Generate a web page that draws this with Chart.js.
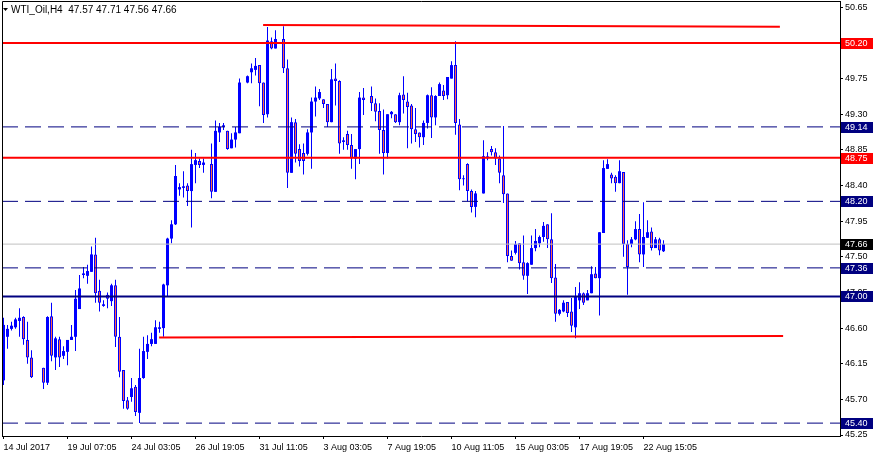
<!DOCTYPE html>
<html>
<head>
<meta charset="utf-8">
<script src="https://cdn.jsdelivr.net/npm/chart.js@4.4.1/dist/chart.umd.min.js"></script>
<style>
  html, body { margin: 0; padding: 0; background: #fff; }
  #wrap { width: 879px; height: 459px; }
</style>
</head>
<body>
<div id="wrap"><canvas id="oilChart"></canvas></div>
<script>
// WTI_Oil H4 candles, one slot per bar (null = empty slot)
const opens = [
  45.94, 46.49, 46.59, 46.61, 46.69, 46.74, 46.45, 46.23, null, null,
  46.10, 45.91, 46.75, 46.23, 46.46, 46.25, 46.30, 46.45, 46.49, 46.84,
  47.27, 47.26, 47.31, 47.53, 47.07, 46.88, 47.02, 46.94, 47.14, 46.49,
  46.07, 45.69, 45.73, 45.86, 45.53, 45.97, 46.30, 46.40, 46.40, 46.59,
  46.60, 47.14, 47.73, 47.91, 48.35, 48.37, 48.40, 48.33, 48.66, 48.71,
  48.66, null, 48.67, 48.32, 49.07, 49.14, 49.09, 48.87, 48.98, 49.06,
  null, 49.70, 49.83, 49.86, 49.92, 49.70, 49.30, 50.22, 50.13, null,
  50.25, 49.88, 48.56, 49.20, 48.86, 48.81, 48.80, 49.07, 49.46, 49.50,
  49.49, 49.43, 49.20, 49.75, 49.72, 48.95, 49.05, 48.91, 48.74, 48.86,
  49.51, null, 49.53, 49.44, 49.34, 49.10, 48.81, 49.30, 49.30, 49.20,
  49.55, 49.46, 49.41, 49.11, 49.07, 49.01, 49.19, 49.54, 49.26, 49.53,
  49.60, 49.54, 49.75, 49.92, 49.17, 48.48, 48.67, 48.33, 48.13, null,
  48.30, 48.77, 48.86, 48.82, 48.74, 48.53, 48.30, 47.51, 47.55, 47.67,
  47.43, 47.26, 47.40, 47.61, 47.67, 47.75, 47.91, 47.72, 47.24, 46.78,
  46.81, 46.93, 46.81, 46.61, 46.95, 47.04, 46.95, 47.04, 47.29, 47.23,
  47.80, 48.61, 48.54, 48.51, 48.43, 48.57, 47.66, 47.66, 47.72, 47.85,
  47.53, 47.74, 47.82, 47.61, 47.72, 47.57
];
const highs = [
  46.73, 46.64, 46.68, 46.73, 46.85, 46.75, 46.68, 46.32, null, null,
  46.10, 46.75, 46.92, 46.49, 46.49, 46.37, 46.45, 46.64, 47.08, 47.27,
  47.37, 47.40, 47.63, 47.74, 47.21, 46.95, 47.05, 47.16, 47.21, 46.74,
  46.07, 45.73, 45.97, 45.88, 46.34, 46.49, 46.51, 46.54, 46.70, 46.68,
  47.16, 47.74, 47.96, 48.66, 48.43, 48.58, 48.43, 48.85, 48.81, 48.74,
  48.74, null, 48.93, 49.22, 49.19, 49.19, 49.09, 49.06, 49.14, 49.75,
  null, 49.79, 49.94, 50.01, 49.92, 49.70, 50.40, 50.27, 50.36, null,
  50.41, 49.99, 49.26, 49.24, 48.92, 48.93, 49.11, 49.51, 49.65, 49.62,
  49.49, 49.43, 49.87, 49.94, 49.73, 49.01, 49.09, 49.05, 48.86, 49.58,
  49.63, null, 49.65, 49.50, 49.44, 49.36, 49.30, 49.34, 49.30, 49.57,
  49.78, 49.57, 49.43, 49.38, 49.07, 49.22, 49.55, 49.64, 49.54, 49.70,
  49.67, 49.77, 49.97, 50.22, 49.24, 48.53, 48.68, 48.35, 48.33, null,
  48.97, 48.82, 48.90, 48.87, 48.78, 49.15, 48.30, 47.58, 47.70, 47.67,
  47.77, 47.43, 47.77, 47.85, 47.77, 47.94, 47.91, 48.05, 47.41, 46.84,
  46.95, 46.93, 46.98, 47.12, 47.18, 47.05, 47.08, 47.38, 47.37, 47.81,
  48.72, 48.73, 48.56, 48.53, 48.72, 48.57, 47.71, 47.75, 47.95, 48.04,
  48.19, 47.96, 47.87, 47.75, 47.74, 47.71
];
const lows = [
  45.88, 46.34, 46.57, 46.59, 46.49, 46.39, 46.15, 45.97, null, null,
  45.83, 45.88, 46.18, 46.07, 46.11, 46.21, 46.13, 46.45, 46.31, 46.84,
  47.23, 47.16, 47.31, 46.92, 46.81, 46.87, 46.85, 46.88, 46.36, 45.98,
  45.58, 45.57, 45.67, 45.49, 45.40, 45.96, 46.21, 46.37, 46.40, 46.54,
  46.49, 47.00, 47.67, 47.90, 48.27, 48.25, 48.14, 47.87, 48.43, 48.62,
  48.56, null, 48.24, 48.32, 48.95, 49.10, 48.85, 48.87, 48.88, 49.06,
  null, 49.69, 49.69, 49.79, 49.40, 49.19, 49.26, 50.12, 50.13, null,
  49.82, 48.37, 48.56, 48.69, 48.64, 48.54, 48.78, 48.61, 49.27, 49.48,
  49.38, 49.14, 49.20, 49.41, 48.80, 48.85, 48.85, 48.61, 48.48, 48.67,
  49.29, null, 49.34, 49.21, 48.80, 48.54, 48.74, 49.25, 49.19, 49.16,
  49.31, 48.87, 48.93, 48.95, 48.88, 48.91, 49.12, 49.00, 49.16, 49.53,
  49.48, 49.49, 49.75, 49.04, 48.34, 48.40, 48.20, 48.06, 48.00, null,
  48.30, 48.72, 48.78, 48.66, 48.43, 48.18, 47.43, 47.45, 47.53, 47.34,
  47.21, 47.03, 47.40, 47.57, 47.62, 47.69, 47.61, 47.17, 46.68, 46.76,
  46.80, 46.74, 46.55, 46.47, 46.84, 46.89, 46.95, 47.04, 47.23, 46.76,
  47.80, 48.61, 48.43, 48.32, 48.43, 47.50, 47.02, 47.62, 47.71, 47.43,
  47.37, 47.74, 47.58, 47.61, 47.52, 47.56
];
const closes = [
  46.64, 46.59, 46.63, 46.71, 46.73, 46.46, 46.23, 45.98, null, null,
  45.91, 46.74, 46.25, 46.47, 46.23, 46.31, 46.45, 46.49, 46.97, 47.10,
  47.29, 47.32, 47.53, 47.04, 46.92, 46.90, 46.97, 47.14, 46.49, 46.05,
  45.68, 45.58, 45.84, 45.54, 45.97, 46.31, 46.40, 46.46, 46.61, 46.61,
  47.15, 47.73, 47.91, 48.52, 48.38, 48.39, 48.33, 48.67, 48.72, 48.66,
  48.69, null, 48.32, 49.09, 49.14, 49.16, 48.86, 48.98, 49.07, 49.70,
  null, 49.78, 49.88, 49.91, 49.69, 49.29, 50.23, 50.13, 50.25, null,
  49.88, 48.56, 49.20, 48.80, 48.71, 48.71, 49.07, 49.46, 49.51, 49.58,
  49.43, 49.20, 49.74, 49.72, 48.93, 48.97, 48.91, 48.74, 48.86, 49.51,
  49.48, null, 49.44, 49.33, 49.10, 48.81, 49.30, 49.33, 49.20, 49.54,
  49.48, 49.39, 49.11, 49.05, 49.01, 49.19, 49.54, 49.26, 49.53, 49.68,
  49.53, 49.77, 49.92, 49.19, 48.48, 48.49, 48.33, 48.13, 48.30, null,
  48.77, 48.74, 48.82, 48.74, 48.56, 48.29, 47.51, 47.45, 47.66, 47.42,
  47.26, 47.42, 47.61, 47.70, 47.75, 47.89, 47.72, 47.23, 46.78, 46.83,
  46.92, 46.79, 46.63, 47.00, 47.04, 46.92, 47.04, 47.28, 47.23, 47.81,
  48.62, 48.67, 48.49, 48.43, 48.58, 47.66, 47.37, 47.72, 47.85, 47.53,
  47.75, 47.81, 47.61, 47.72, 47.58, 47.66
];

// one label every 16 bars
const dateLabels = [
  '14 Jul 2017', '19 Jul 07:05', '24 Jul 03:05', '26 Jul 19:05', '31 Jul 11:05',
  '3 Aug 03:05', '7 Aug 19:05', '10 Aug 11:05', '15 Aug 03:05', '17 Aug 19:05',
  '22 Aug 15:05'
];
const priceTicks = [45.25, 45.70, 46.15, 46.60, 47.05, 47.50, 47.95, 48.40, 48.85, 49.30, 49.75, 50.20, 50.65];

// horizontal levels drawn on the chart
const redLevels = [50.20, 48.75];
const dashLevels = [49.14, 48.20, 47.36, 45.40];
const supportLevel = 47.00;
const bidLevel = 47.66;
// trend lines: [bar index, price] pairs
const topTrend = [[64.9, 50.425], [194.1, 50.405]];
const bottomTrend = [[38.9, 46.48], [194.9, 46.50]];

const quote = 'WTI_Oil,H4  47.57 47.71 47.56 47.66';

const FONT = 'Liberation Sans';
const BLUE = '#0000ff';
const BEAR = '#ff6347';
const RED = '#ff0000';
const NAVY = '#000080';

const xMin = -0.375, xMax = 209.125;
const yMin = 45.2374, yMax = 50.7295;

const bullBodies = [], bearBodies = [], wicks = [];
opens.forEach((o, i) => {
    if (o === null) return;
    const c = closes[i];
    wicks.push({ x: i, y: [lows[i], highs[i]] });
    if (c >= o) bullBodies.push({ x: i, y: [o, c] });
    else bearBodies.push({ x: i, y: [c, o] });
});

function hline(v, color, width, dash) {
    return {
        type: 'line',
        data: [{ x: xMin, y: v }, { x: xMax, y: v }],
        borderColor: color,
        borderWidth: width,
        borderDash: dash || [],
        pointRadius: 0,
        fill: false,
        order: -1
    };
}
function segment(pts, color, width) {
    return {
        type: 'line',
        data: pts.map(p => ({ x: p[0], y: p[1] })),
        borderColor: color,
        borderWidth: width,
        pointRadius: 0,
        fill: false,
        order: -1
    };
}

const levelBoxes = [
    { v: 50.20, bg: RED }, { v: 49.14, bg: NAVY }, { v: 48.75, bg: RED },
    { v: 48.20, bg: NAVY }, { v: 47.66, bg: '#000000' }, { v: 47.36, bg: NAVY },
    { v: 47.00, bg: NAVY }, { v: 45.40, bg: NAVY }
];

const overlay = {
    id: 'overlay',
    afterDraw(chart) {
        const { ctx, chartArea, scales } = chart;
        ctx.save();
        // frame left / top
        ctx.strokeStyle = '#000';
        ctx.lineWidth = 1;
        ctx.beginPath();
        ctx.moveTo(chartArea.left + 0.5, chartArea.bottom);
        ctx.lineTo(chartArea.left + 0.5, chartArea.top + 0.5);
        ctx.lineTo(chartArea.right, chartArea.top + 0.5);
        ctx.stroke();

        // price boxes on the right scale
        ctx.font = '9px "' + FONT + '"';
        ctx.textBaseline = 'middle';
        ctx.textAlign = 'left';
        levelBoxes.forEach(b => {
            const y = Math.round(scales.y.getPixelForValue(b.v));
            ctx.fillStyle = b.bg;
            ctx.fillRect(chartArea.right + 1, y - 5, 32, 11);
            ctx.fillStyle = '#fff';
            ctx.fillText(b.v.toFixed(2), chartArea.right + 5, y + 0.5);
        });

        // symbol line at top-left
        ctx.fillStyle = '#000';
        ctx.beginPath();
        ctx.moveTo(3, 8);
        ctx.lineTo(8, 8);
        ctx.lineTo(5.5, 11);
        ctx.closePath();
        ctx.fill();
        ctx.font = '10px "' + FONT + '"';
        ctx.fillText(quote, 11, 10);
        ctx.restore();
    }
};

new Chart(document.getElementById('oilChart'), {
    type: 'bar',
    data: {
        datasets: [
            hline(redLevels[0], RED, 2),
            hline(redLevels[1], RED, 2),
            ...dashLevels.map(v => hline(v, NAVY, 1, [16, 7])),
            hline(supportLevel, NAVY, 2),
            hline(bidLevel, '#c0c0c0', 1),
            segment(topTrend, RED, 2),
            segment(bottomTrend, RED, 2),
            {
                data: bullBodies,
                backgroundColor: BLUE,
                borderWidth: 0,
                barThickness: 3,
                grouped: false,
                inflateAmount: 0
            },
            {
                data: bearBodies,
                backgroundColor: BEAR,
                borderColor: BLUE,
                borderWidth: 1,
                borderSkipped: false,
                barThickness: 3,
                grouped: false,
                inflateAmount: 0
            },
            {
                data: wicks,
                backgroundColor: BLUE,
                borderWidth: 0,
                barThickness: 1,
                grouped: false,
                inflateAmount: 0
            }
        ]
    },
    options: {
        responsive: true,
        maintainAspectRatio: false,
        animation: false,
        layout: { padding: { left: 2, top: 1, right: 0, bottom: 0 } },
        plugins: {
            legend: { display: false },
            tooltip: { enabled: false },
            title: { display: false }
        },
        scales: {
            x: {
                type: 'linear',
                offset: false,
                min: xMin,
                max: xMax,
                afterBuildTicks: (scale) => {
                    scale.ticks = dateLabels.map((_, k) => ({ value: k * 16 }));
                },
                afterFit: (scale) => {
                    scale.height = 23;
                    scale.paddingLeft = 0;
                    scale.paddingRight = 0;
                },
                ticks: {
                    autoSkip: false,
                    maxRotation: 0,
                    align: 'start',
                    padding: 3,
                    color: '#000',
                    font: { family: FONT, size: 9 },
                    callback: (value, index) => dateLabels[index]
                },
                grid: {
                    offset: false,
                    drawOnChartArea: false,
                    drawTicks: true,
                    tickLength: 3,
                    color: '#000'
                },
                border: { color: '#000', width: 1 }
            },
            y: {
                type: 'linear',
                position: 'right',
                min: yMin,
                max: yMax,
                afterBuildTicks: (scale) => {
                    scale.ticks = priceTicks.map(v => ({ value: v }));
                },
                afterFit: (scale) => {
                    scale.width = 39;
                    scale.paddingTop = 0;
                    scale.paddingBottom = 0;
                },
                ticks: {
                    autoSkip: false,
                    padding: 2,
                    color: '#000',
                    font: { family: FONT, size: 9 },
                    callback: (value) => value.toFixed(2)
                },
                grid: {
                    drawOnChartArea: false,
                    drawTicks: true,
                    tickLength: 3,
                    color: '#000'
                },
                border: { color: '#000', width: 1 }
            }
        }
    },
    plugins: [overlay]
});
</script>
</body>
</html>
